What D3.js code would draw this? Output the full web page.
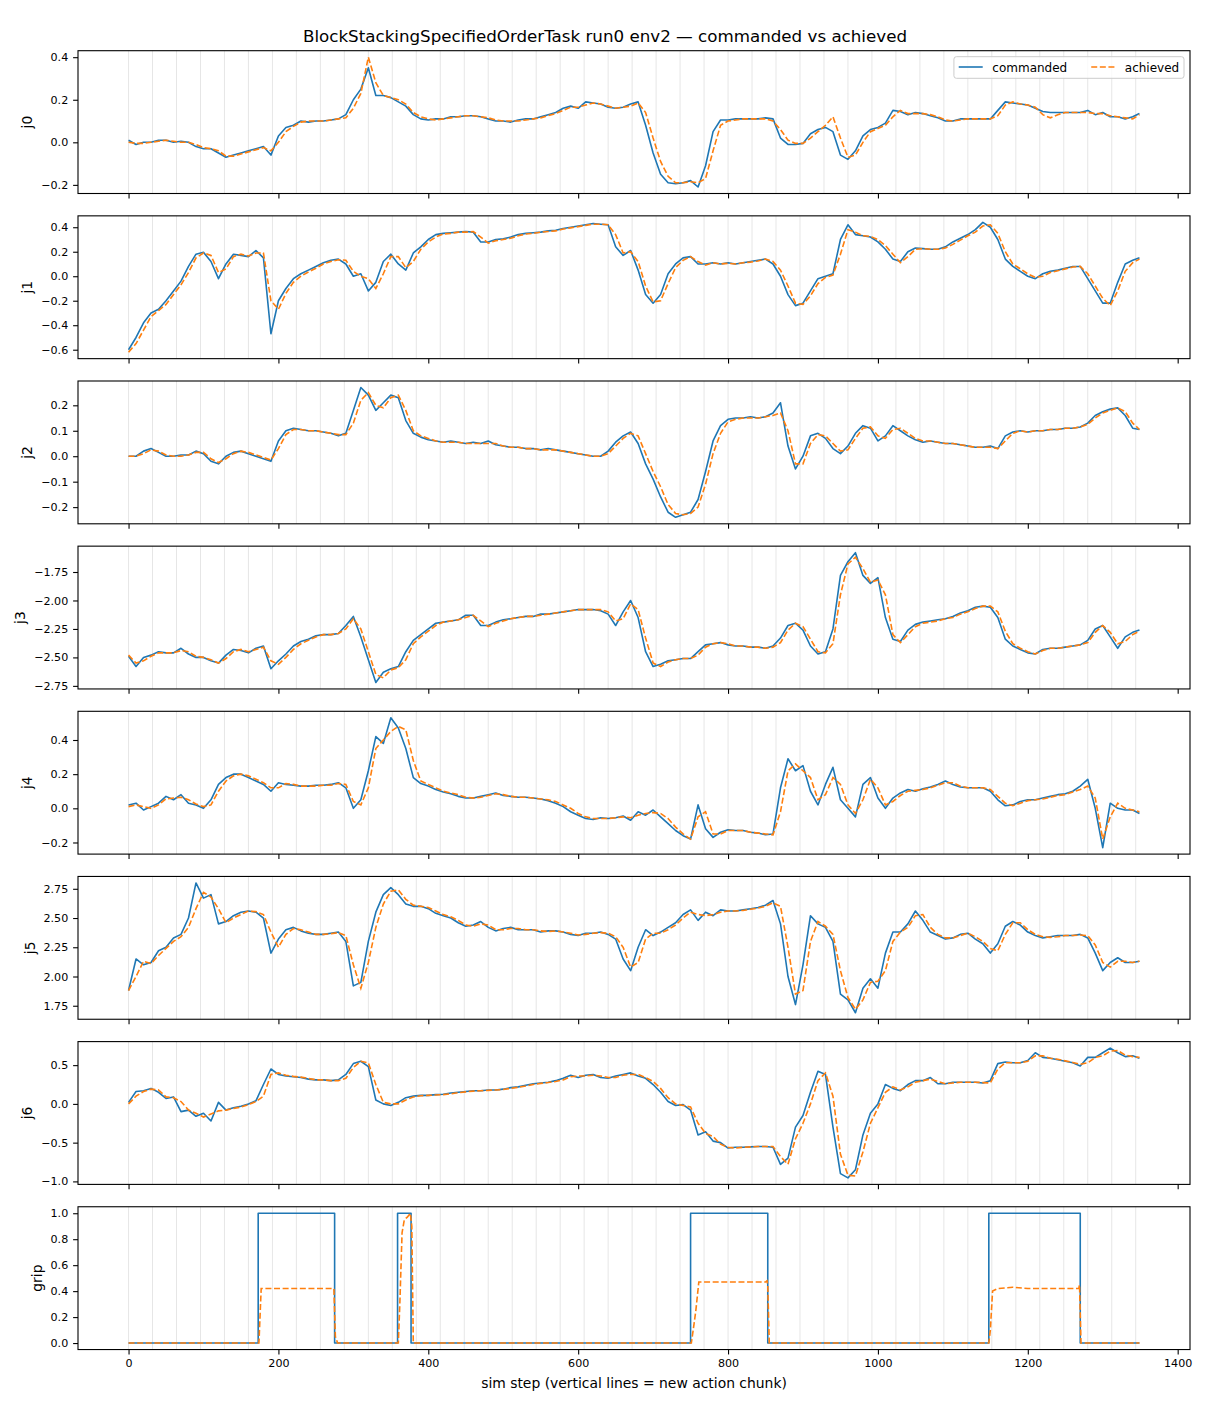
<!DOCTYPE html>
<html>
<head>
<meta charset="utf-8">
<script src="https://cdn.jsdelivr.net/npm/d3@7"></script>
<style>
	body { margin: 0; background: #fff; }
	text { font-family: "DejaVu Sans", sans-serif; fill: #000; }
</style>
</head>
<body>
<div id="chart"></div>
<script>
// joint traces are read every 10 sim steps (plus the last step 1349)
const sampleSteps = d3.range(0, 1350, 10).concat([1349]);

const j0Commanded = [
	0.01, -0.01, 0.0, 0.0, 0.01, 0.01, 0.0, 0.005, 0.0, -0.02,
	-0.03, -0.03, -0.05, -0.07, -0.06, -0.05, -0.04, -0.03, -0.02, -0.06,
	0.03, 0.07, 0.08, 0.10, 0.095, 0.10, 0.10, 0.105, 0.11, 0.13,
	0.20, 0.25, 0.35, 0.22, 0.22, 0.21, 0.19, 0.17, 0.13, 0.11,
	0.105, 0.11, 0.11, 0.12, 0.12, 0.125, 0.125, 0.12, 0.11, 0.10,
	0.10, 0.095, 0.105, 0.11, 0.11, 0.12, 0.13, 0.14, 0.16, 0.17,
	0.16, 0.19, 0.185, 0.18, 0.165, 0.16, 0.165, 0.18, 0.19, 0.08,
	-0.05, -0.15, -0.19, -0.195, -0.19, -0.18, -0.21, -0.11, 0.05, 0.105,
	0.105, 0.11, 0.11, 0.11, 0.11, 0.115, 0.11, 0.02, -0.01, -0.01,
	-0.005, 0.04, 0.06, 0.07, 0.05, -0.06, -0.08, -0.04, 0.03, 0.06,
	0.07, 0.09, 0.15, 0.145, 0.13, 0.14, 0.135, 0.125, 0.115, 0.10,
	0.10, 0.11, 0.11, 0.11, 0.11, 0.11, 0.15, 0.19, 0.185, 0.18,
	0.175, 0.16, 0.145, 0.14, 0.14, 0.14, 0.14, 0.14, 0.15, 0.13,
	0.14, 0.12, 0.12, 0.11, 0.12, 0.135
];
const j0Achieved = [
	0.0, -0.005, -0.005, 0.0, 0.005, 0.01, 0.005, 0.0, 0.0, -0.01,
	-0.025, -0.03, -0.04, -0.065, -0.065, -0.055, -0.045, -0.035, -0.025, -0.04,
	0.0, 0.05, 0.075, 0.095, 0.10, 0.10, 0.10, 0.105, 0.11, 0.115,
	0.16, 0.23, 0.40, 0.28, 0.22, 0.21, 0.20, 0.18, 0.14, 0.12,
	0.11, 0.105, 0.11, 0.115, 0.12, 0.125, 0.125, 0.12, 0.115, 0.105,
	0.10, 0.10, 0.10, 0.105, 0.11, 0.115, 0.125, 0.135, 0.15, 0.165,
	0.165, 0.175, 0.185, 0.18, 0.17, 0.16, 0.165, 0.17, 0.185, 0.14,
	0.02, -0.09, -0.16, -0.19, -0.19, -0.185, -0.19, -0.17, -0.04, 0.08,
	0.10, 0.105, 0.11, 0.11, 0.11, 0.11, 0.10, 0.06, 0.01, -0.005,
	-0.005, 0.02, 0.05, 0.08, 0.12, 0.02, -0.07, -0.06, 0.0, 0.05,
	0.065, 0.08, 0.12, 0.15, 0.135, 0.135, 0.135, 0.13, 0.12, 0.105,
	0.10, 0.105, 0.11, 0.11, 0.11, 0.11, 0.125, 0.175, 0.19, 0.18,
	0.175, 0.165, 0.13, 0.115, 0.13, 0.14, 0.14, 0.14, 0.14, 0.135,
	0.135, 0.125, 0.12, 0.115, 0.11, 0.13
];

const j1Commanded = [
	-0.60, -0.50, -0.38, -0.30, -0.27, -0.20, -0.12, -0.04, 0.08, 0.18,
	0.195, 0.12, -0.02, 0.10, 0.18, 0.17, 0.16, 0.21, 0.15, -0.47,
	-0.20, -0.10, -0.02, 0.02, 0.05, 0.08, 0.11, 0.13, 0.14, 0.10,
	0.0, 0.02, -0.12, -0.05, 0.12, 0.18, 0.10, 0.05, 0.19, 0.24,
	0.30, 0.34, 0.35, 0.355, 0.36, 0.365, 0.36, 0.28, 0.28, 0.30,
	0.305, 0.32, 0.34, 0.35, 0.355, 0.36, 0.37, 0.375, 0.39, 0.40,
	0.41, 0.42, 0.43, 0.425, 0.42, 0.24, 0.17, 0.21, 0.05, -0.15,
	-0.22, -0.15, 0.02, 0.10, 0.15, 0.16, 0.10, 0.10, 0.11, 0.10,
	0.11, 0.10, 0.11, 0.12, 0.13, 0.14, 0.10, 0.0, -0.15, -0.24,
	-0.22, -0.12, -0.02, 0.0, 0.02, 0.30, 0.42, 0.34, 0.33, 0.32,
	0.28, 0.22, 0.14, 0.12, 0.20, 0.23, 0.225, 0.22, 0.22, 0.24,
	0.28, 0.31, 0.34, 0.38, 0.44, 0.40, 0.30, 0.14, 0.08, 0.04,
	0.0, -0.02, 0.02, 0.04, 0.05, 0.065, 0.08, 0.08, -0.02, -0.12,
	-0.22, -0.22, -0.05, 0.10, 0.13, 0.15
];
const j1Achieved = [
	-0.62, -0.55, -0.44, -0.33, -0.28, -0.23, -0.15, -0.07, 0.03, 0.15,
	0.19, 0.17, 0.03, 0.06, 0.16, 0.18, 0.165, 0.19, 0.19, -0.20,
	-0.27, -0.14, -0.05, 0.0, 0.035, 0.065, 0.10, 0.12, 0.135, 0.13,
	0.04, 0.0, -0.02, -0.10, 0.02, 0.16, 0.16, 0.07, 0.12, 0.22,
	0.28, 0.32, 0.345, 0.35, 0.36, 0.36, 0.365, 0.32, 0.27, 0.29,
	0.30, 0.31, 0.33, 0.345, 0.35, 0.36, 0.365, 0.37, 0.385, 0.395,
	0.405, 0.415, 0.425, 0.425, 0.42, 0.34, 0.19, 0.20, 0.12, -0.08,
	-0.21, -0.20, -0.06, 0.07, 0.13, 0.16, 0.12, 0.09, 0.11, 0.10,
	0.105, 0.10, 0.11, 0.115, 0.125, 0.14, 0.12, 0.05, -0.08, -0.22,
	-0.23, -0.16, -0.06, -0.01, 0.01, 0.18, 0.38, 0.36, 0.33, 0.325,
	0.30, 0.25, 0.18, 0.11, 0.16, 0.22, 0.225, 0.22, 0.22, 0.23,
	0.26, 0.295, 0.33, 0.36, 0.41, 0.42, 0.35, 0.20, 0.10, 0.06,
	0.02, -0.01, 0.0, 0.03, 0.045, 0.06, 0.075, 0.08, 0.02, -0.08,
	-0.18, -0.24, -0.12, 0.04, 0.11, 0.14
];

const j2Commanded = [
	0.0, 0.0, 0.02, 0.03, 0.015, 0.0, 0.0, 0.005, 0.005, 0.02,
	0.01, -0.02, -0.03, 0.0, 0.015, 0.02, 0.01, 0.0, -0.01, -0.02,
	0.06, 0.10, 0.11, 0.105, 0.10, 0.10, 0.095, 0.09, 0.08, 0.09,
	0.18, 0.27, 0.24, 0.18, 0.21, 0.24, 0.23, 0.14, 0.09, 0.075,
	0.065, 0.06, 0.055, 0.06, 0.055, 0.05, 0.055, 0.05, 0.06, 0.045,
	0.04, 0.035, 0.035, 0.03, 0.03, 0.025, 0.03, 0.025, 0.02, 0.015,
	0.01, 0.005, 0.0, 0.0, 0.02, 0.055, 0.08, 0.095, 0.05, -0.03,
	-0.09, -0.16, -0.22, -0.24, -0.23, -0.22, -0.17, -0.06, 0.06, 0.12,
	0.145, 0.15, 0.15, 0.155, 0.15, 0.155, 0.17, 0.21, 0.04, -0.05,
	0.0, 0.08, 0.09, 0.07, 0.03, 0.01, 0.04, 0.09, 0.12, 0.11,
	0.06, 0.08, 0.12, 0.10, 0.08, 0.065, 0.055, 0.06, 0.055, 0.05,
	0.05, 0.045, 0.04, 0.035, 0.035, 0.04, 0.03, 0.08, 0.095, 0.10,
	0.095, 0.10, 0.10, 0.105, 0.105, 0.11, 0.11, 0.115, 0.13, 0.16,
	0.175, 0.185, 0.19, 0.16, 0.11, 0.105
];
const j2Achieved = [
	0.0, 0.0, 0.01, 0.025, 0.02, 0.005, 0.0, 0.0, 0.005, 0.015,
	0.015, -0.01, -0.025, -0.01, 0.01, 0.02, 0.015, 0.005, -0.005, -0.015,
	0.03, 0.085, 0.105, 0.105, 0.10, 0.10, 0.095, 0.09, 0.085, 0.085,
	0.13, 0.22, 0.25, 0.20, 0.19, 0.23, 0.24, 0.18, 0.10, 0.08,
	0.07, 0.06, 0.055, 0.055, 0.055, 0.05, 0.05, 0.05, 0.05, 0.05,
	0.04, 0.035, 0.035, 0.03, 0.03, 0.025, 0.025, 0.025, 0.02, 0.015,
	0.01, 0.005, 0.0, 0.0, 0.01, 0.04, 0.07, 0.09, 0.08, 0.01,
	-0.06, -0.12, -0.19, -0.225, -0.23, -0.225, -0.20, -0.11, 0.01, 0.09,
	0.135, 0.145, 0.15, 0.15, 0.15, 0.155, 0.16, 0.17, 0.10, -0.03,
	-0.03, 0.05, 0.085, 0.08, 0.05, 0.02, 0.025, 0.07, 0.11, 0.115,
	0.08, 0.07, 0.105, 0.11, 0.09, 0.07, 0.06, 0.06, 0.055, 0.05,
	0.05, 0.045, 0.04, 0.035, 0.035, 0.035, 0.03, 0.06, 0.09, 0.10,
	0.095, 0.10, 0.10, 0.105, 0.105, 0.11, 0.11, 0.115, 0.125, 0.15,
	0.17, 0.18, 0.19, 0.175, 0.13, 0.105
];

const j3Commanded = [
	-2.49, -2.58, -2.50, -2.48, -2.45, -2.46, -2.46, -2.42, -2.47, -2.50,
	-2.50, -2.53, -2.55, -2.48, -2.43, -2.44, -2.46, -2.42, -2.40, -2.60,
	-2.53, -2.47, -2.40, -2.36, -2.34, -2.31, -2.30, -2.30, -2.29, -2.22,
	-2.14, -2.32, -2.52, -2.72, -2.63, -2.60, -2.58, -2.45, -2.35, -2.30,
	-2.25, -2.20, -2.19, -2.18, -2.17, -2.13, -2.13, -2.22, -2.22, -2.19,
	-2.17, -2.16, -2.15, -2.14, -2.14, -2.12, -2.12, -2.11, -2.10, -2.09,
	-2.08, -2.08, -2.08, -2.09, -2.12, -2.22, -2.10, -2.00, -2.15, -2.45,
	-2.58, -2.56, -2.53, -2.52, -2.51, -2.51, -2.45, -2.39, -2.38, -2.37,
	-2.39, -2.40, -2.40, -2.41, -2.41, -2.42, -2.40, -2.33, -2.22, -2.20,
	-2.26, -2.40, -2.47, -2.45, -2.25, -1.78, -1.66, -1.58, -1.78, -1.85,
	-1.80, -2.15, -2.34, -2.36, -2.26, -2.21, -2.19, -2.18, -2.17, -2.16,
	-2.14, -2.11, -2.09, -2.06, -2.05, -2.06, -2.15, -2.34, -2.40, -2.43,
	-2.46, -2.47, -2.43, -2.42, -2.42, -2.41, -2.40, -2.39, -2.35, -2.25,
	-2.22, -2.32, -2.42, -2.32, -2.28, -2.26
];
const j3Achieved = [
	-2.48, -2.55, -2.53, -2.49, -2.46, -2.46, -2.46, -2.44, -2.45, -2.49,
	-2.50, -2.52, -2.55, -2.51, -2.45, -2.43, -2.45, -2.43, -2.41, -2.53,
	-2.56, -2.50, -2.43, -2.38, -2.35, -2.32, -2.30, -2.30, -2.29, -2.25,
	-2.16, -2.25, -2.45, -2.65, -2.68, -2.61, -2.59, -2.52, -2.38, -2.32,
	-2.27, -2.22, -2.19, -2.18, -2.17, -2.15, -2.13, -2.18, -2.23, -2.20,
	-2.18, -2.16, -2.15, -2.14, -2.14, -2.13, -2.12, -2.11, -2.10, -2.09,
	-2.08, -2.08, -2.08, -2.08, -2.10, -2.18, -2.16, -2.03, -2.08, -2.33,
	-2.55, -2.58, -2.54, -2.52, -2.51, -2.51, -2.48, -2.41, -2.38, -2.37,
	-2.38, -2.40, -2.40, -2.41, -2.41, -2.42, -2.41, -2.37, -2.26, -2.20,
	-2.23, -2.34, -2.45, -2.46, -2.38, -1.95, -1.68, -1.62, -1.72, -1.84,
	-1.82, -1.95, -2.30, -2.37, -2.30, -2.23, -2.20, -2.19, -2.18, -2.16,
	-2.15, -2.12, -2.10, -2.07, -2.05, -2.05, -2.10, -2.27, -2.38, -2.42,
	-2.45, -2.47, -2.44, -2.42, -2.42, -2.41, -2.40, -2.39, -2.37, -2.28,
	-2.22, -2.28, -2.38, -2.36, -2.30, -2.27
];

const j4Commanded = [
	0.02, 0.03, -0.01, 0.01, 0.03, 0.07, 0.05, 0.08, 0.03, 0.02,
	0.0, 0.05, 0.14, 0.18, 0.20, 0.20, 0.18, 0.16, 0.14, 0.10,
	0.15, 0.14, 0.135, 0.13, 0.13, 0.135, 0.135, 0.14, 0.15, 0.12,
	0.0, 0.05, 0.22, 0.42, 0.38, 0.53, 0.47, 0.35, 0.18, 0.145,
	0.13, 0.11, 0.095, 0.085, 0.07, 0.06, 0.06, 0.07, 0.08, 0.09,
	0.075, 0.07, 0.065, 0.065, 0.06, 0.055, 0.045, 0.03, 0.01, -0.02,
	-0.04, -0.06, -0.065, -0.055, -0.06, -0.055, -0.045, -0.07, -0.02, -0.04,
	-0.01, -0.05, -0.09, -0.13, -0.16, -0.18, 0.02, -0.12, -0.17, -0.14,
	-0.125, -0.13, -0.13, -0.14, -0.145, -0.155, -0.15, 0.12, 0.29, 0.22,
	0.25, 0.10, 0.02, 0.14, 0.24, 0.05, 0.0, -0.05, 0.14, 0.18,
	0.06, 0.0, 0.06, 0.09, 0.11, 0.10, 0.115, 0.125, 0.14, 0.16,
	0.14, 0.125, 0.12, 0.12, 0.12, 0.10, 0.05, 0.015, 0.02, 0.04,
	0.05, 0.05, 0.06, 0.07, 0.08, 0.085, 0.10, 0.13, 0.17, 0.0,
	-0.23, 0.03, 0.0, -0.01, -0.01, -0.03
];
const j4Achieved = [
	0.01, 0.02, 0.01, 0.0, 0.02, 0.055, 0.06, 0.065, 0.05, 0.025,
	0.01, 0.02, 0.10, 0.16, 0.19, 0.20, 0.19, 0.17, 0.15, 0.12,
	0.12, 0.145, 0.14, 0.13, 0.13, 0.13, 0.135, 0.135, 0.145, 0.14,
	0.04, 0.02, 0.12, 0.35, 0.40, 0.45, 0.48, 0.46, 0.28, 0.16,
	0.14, 0.12, 0.10, 0.09, 0.08, 0.065, 0.06, 0.065, 0.075, 0.085,
	0.08, 0.07, 0.065, 0.065, 0.06, 0.055, 0.05, 0.04, 0.02, 0.0,
	-0.03, -0.05, -0.06, -0.06, -0.06, -0.055, -0.05, -0.055, -0.04, -0.03,
	-0.025, -0.03, -0.06, -0.11, -0.15, -0.18, -0.05, -0.02, -0.15, -0.15,
	-0.13, -0.13, -0.13, -0.14, -0.145, -0.15, -0.155, -0.02, 0.22, 0.26,
	0.22, 0.18, 0.05, 0.08, 0.18, 0.14, 0.02, -0.03, 0.05, 0.17,
	0.12, 0.02, 0.04, 0.075, 0.10, 0.105, 0.11, 0.12, 0.135, 0.15,
	0.15, 0.13, 0.12, 0.12, 0.12, 0.11, 0.07, 0.03, 0.015, 0.03,
	0.045, 0.05, 0.055, 0.065, 0.075, 0.08, 0.095, 0.11, 0.13, 0.06,
	-0.18, -0.05, 0.03, 0.0, -0.01, -0.02
];

const j5Commanded = [
	1.88, 2.15, 2.10, 2.12, 2.22, 2.25, 2.33, 2.36, 2.50, 2.80,
	2.67, 2.70, 2.45, 2.47, 2.52, 2.55, 2.56, 2.55, 2.50, 2.20,
	2.32, 2.40, 2.42, 2.39, 2.37, 2.36, 2.36, 2.37, 2.38, 2.30,
	1.92, 1.95, 2.30, 2.55, 2.70, 2.76, 2.70, 2.62, 2.60, 2.60,
	2.58, 2.54, 2.52, 2.50, 2.46, 2.43, 2.44, 2.47, 2.42, 2.39,
	2.41, 2.42, 2.40, 2.40, 2.40, 2.38, 2.39, 2.39, 2.38, 2.36,
	2.35, 2.37, 2.37, 2.38, 2.36, 2.32, 2.15, 2.05, 2.25, 2.40,
	2.35, 2.38, 2.42, 2.46, 2.53, 2.57, 2.48, 2.55, 2.52, 2.57,
	2.56, 2.56, 2.57, 2.58, 2.59, 2.61, 2.65, 2.45, 2.00, 1.76,
	2.10, 2.52, 2.45, 2.42, 2.30, 1.85, 1.80, 1.69, 1.90, 1.98,
	1.90, 2.20, 2.38, 2.38, 2.45, 2.56, 2.48, 2.38, 2.35, 2.32,
	2.33, 2.36, 2.37, 2.32, 2.28, 2.20, 2.28, 2.43, 2.47, 2.44,
	2.38, 2.35, 2.33, 2.34, 2.35, 2.35, 2.35, 2.36, 2.33, 2.20,
	2.05, 2.12, 2.16, 2.12, 2.12, 2.13
];
const j5Achieved = [
	1.88, 2.00, 2.13, 2.11, 2.18, 2.24, 2.30, 2.34, 2.42, 2.58,
	2.72, 2.68, 2.58, 2.46, 2.50, 2.53, 2.56, 2.555, 2.53, 2.38,
	2.25, 2.36, 2.41, 2.40, 2.38, 2.36, 2.36, 2.365, 2.375, 2.35,
	2.10, 1.90, 2.12, 2.42, 2.62, 2.73, 2.74, 2.66, 2.61, 2.60,
	2.59, 2.56, 2.53, 2.51, 2.48, 2.44, 2.43, 2.45, 2.44, 2.40,
	2.40, 2.41, 2.41, 2.40, 2.40, 2.39, 2.385, 2.39, 2.38, 2.37,
	2.355, 2.36, 2.37, 2.375, 2.37, 2.34, 2.25, 2.08, 2.12, 2.32,
	2.37, 2.37, 2.40, 2.44, 2.50, 2.55, 2.53, 2.52, 2.53, 2.55,
	2.56, 2.56, 2.565, 2.575, 2.585, 2.60, 2.63, 2.60, 2.25, 1.85,
	1.88, 2.30, 2.47, 2.43, 2.36, 2.05, 1.82, 1.72, 1.80, 1.95,
	1.96, 2.05, 2.30, 2.38, 2.42, 2.52, 2.53, 2.42, 2.36, 2.33,
	2.33, 2.35, 2.37, 2.34, 2.30, 2.24, 2.22, 2.36, 2.46, 2.46,
	2.40, 2.36, 2.34, 2.335, 2.34, 2.35, 2.35, 2.355, 2.35, 2.27,
	2.12, 2.08, 2.13, 2.13, 2.12, 2.13
];

const j6Commanded = [
	0.02, 0.16, 0.17, 0.20, 0.15, 0.07, 0.09, -0.10, -0.08, -0.16,
	-0.12, -0.22, 0.02, -0.08, -0.05, -0.03, 0.0, 0.04, 0.25, 0.45,
	0.38, 0.36, 0.35, 0.34, 0.32, 0.31, 0.31, 0.30, 0.31, 0.38,
	0.52, 0.55, 0.48, 0.05, 0.0, -0.02, 0.02, 0.08, 0.10, 0.11,
	0.11, 0.12, 0.125, 0.14, 0.15, 0.16, 0.17, 0.17, 0.18, 0.18,
	0.19, 0.21, 0.22, 0.24, 0.26, 0.27, 0.28, 0.30, 0.33, 0.37,
	0.34, 0.37, 0.38, 0.34, 0.33, 0.36, 0.38, 0.40, 0.36, 0.33,
	0.25, 0.15, 0.03, -0.02, -0.01, -0.08, -0.40, -0.36, -0.48, -0.50,
	-0.57, -0.56, -0.56, -0.555, -0.55, -0.55, -0.56, -0.78, -0.70, -0.30,
	-0.15, 0.15, 0.42, 0.38, -0.30, -0.90, -0.955, -0.85, -0.40, -0.12,
	0.0, 0.25, 0.20, 0.17, 0.25, 0.30, 0.30, 0.34, 0.26, 0.26,
	0.28, 0.28, 0.28, 0.28, 0.27, 0.30, 0.52, 0.54, 0.53, 0.53,
	0.56, 0.66, 0.60, 0.59, 0.57, 0.55, 0.53, 0.49, 0.60, 0.60,
	0.66, 0.72, 0.66, 0.61, 0.62, 0.59
];
const j6Achieved = [
	0.0, 0.10, 0.16, 0.19, 0.18, 0.09, 0.08, 0.03, -0.08, -0.12,
	-0.17, -0.13, -0.09, -0.08, -0.06, -0.04, -0.01, 0.03, 0.10, 0.38,
	0.40, 0.37, 0.355, 0.345, 0.33, 0.31, 0.31, 0.30, 0.30, 0.33,
	0.47, 0.55, 0.53, 0.25, 0.02, 0.0, 0.0, 0.05, 0.09, 0.105,
	0.11, 0.115, 0.12, 0.13, 0.145, 0.155, 0.165, 0.17, 0.175, 0.18,
	0.185, 0.20, 0.215, 0.23, 0.25, 0.265, 0.275, 0.29, 0.31, 0.35,
	0.36, 0.36, 0.37, 0.36, 0.34, 0.34, 0.37, 0.38, 0.38, 0.34,
	0.29, 0.20, 0.08, 0.0, -0.02, -0.04, -0.25, -0.38, -0.42, -0.52,
	-0.56, -0.57, -0.56, -0.555, -0.55, -0.55, -0.55, -0.68, -0.78, -0.45,
	-0.25, 0.0, 0.30, 0.40, 0.10, -0.65, -0.92, -0.93, -0.62, -0.25,
	-0.05, 0.15, 0.22, 0.18, 0.22, 0.28, 0.30, 0.32, 0.29, 0.26,
	0.27, 0.28, 0.28, 0.28, 0.275, 0.27, 0.45, 0.53, 0.53, 0.53,
	0.55, 0.62, 0.62, 0.59, 0.575, 0.555, 0.535, 0.51, 0.53, 0.60,
	0.62, 0.68, 0.69, 0.63, 0.61, 0.60
];

// gripper: breakpoints of the open/close signal
const gripCommandedSteps = [0, 173, 275, 359, 377, 750, 853, 1148, 1270, 1349];
const gripCommandedValues = [0, 1, 0, 1, 0, 1, 0, 1, 0, 0];
const gripAchievedSteps = [
	0, 174, 177, 274, 276, 279,
	360, 362, 365, 368, 372, 376, 378, 380,
	751, 754, 757, 761, 850, 852, 853, 855,
	1148, 1150, 1153, 1160, 1180, 1200, 1268, 1269, 1271, 1349
];
const gripAchievedValues = [
	0, 0, 0.42, 0.42, 0.05, 0,
	0, 0.3, 0.85, 0.95, 0.97, 1.0, 0.9, 0,
	0, 0.12, 0.25, 0.47, 0.47, 0.48, 0.44, 0,
	0, 0.1, 0.40, 0.42, 0.43, 0.42, 0.42, 0.45, 0, 0
];

// a new action chunk starts every 32 sim steps
const chunkStarts = d3.range(0, 1350, 32);

const xTicks = [0, 200, 400, 600, 800, 1000, 1200, 1400];
const j0Ticks = [-0.2, 0.0, 0.2, 0.4];
const j1Ticks = [-0.6, -0.4, -0.2, 0.0, 0.2, 0.4];
const j2Ticks = [-0.2, -0.1, 0.0, 0.1, 0.2];
const j3Ticks = [-2.75, -2.50, -2.25, -2.00, -1.75];
const j4Ticks = [-0.2, 0.0, 0.2, 0.4];
const j5Ticks = [1.75, 2.00, 2.25, 2.50, 2.75];
const j6Ticks = [-1.0, -0.5, 0.0, 0.5];
const gripTicks = [0.0, 0.2, 0.4, 0.6, 0.8, 1.0];

const seriesNames = ['commanded', 'achieved'];
const titleText = 'BlockStackingSpecifiedOrderTask run0 env2 \u2014 commanded vs achieved';
const xLabelText = 'sim step (vertical lines = new action chunk)';

// ---------------------------------------------------------------

const width = 1210;
const height = 1408;
const left = 78;
const right = 1190;
const top0 = 50.7;
const panelH = 142.8;
const pitch = 165.15;
const tickLen = 4.9;
const tickPad = 4.9;
const blue = '#1f77b4';
const orange = '#ff7f0e';

const zipSeries = (steps, values) => steps.map((s, i) => ({ step: s, value: values[i] }));

const panels = [
	{ label: 'j0', ticks: j0Ticks, fmt: '.1f', cmd: zipSeries(sampleSteps, j0Commanded), ach: zipSeries(sampleSteps, j0Achieved) },
	{ label: 'j1', ticks: j1Ticks, fmt: '.1f', cmd: zipSeries(sampleSteps, j1Commanded), ach: zipSeries(sampleSteps, j1Achieved) },
	{ label: 'j2', ticks: j2Ticks, fmt: '.1f', cmd: zipSeries(sampleSteps, j2Commanded), ach: zipSeries(sampleSteps, j2Achieved) },
	{ label: 'j3', ticks: j3Ticks, fmt: '.2f', cmd: zipSeries(sampleSteps, j3Commanded), ach: zipSeries(sampleSteps, j3Achieved) },
	{ label: 'j4', ticks: j4Ticks, fmt: '.1f', cmd: zipSeries(sampleSteps, j4Commanded), ach: zipSeries(sampleSteps, j4Achieved) },
	{ label: 'j5', ticks: j5Ticks, fmt: '.2f', cmd: zipSeries(sampleSteps, j5Commanded), ach: zipSeries(sampleSteps, j5Achieved) },
	{ label: 'j6', ticks: j6Ticks, fmt: '.1f', cmd: zipSeries(sampleSteps, j6Commanded), ach: zipSeries(sampleSteps, j6Achieved) },
	{ label: 'grip', ticks: gripTicks, fmt: '.1f', step: true,
		cmd: zipSeries(gripCommandedSteps, gripCommandedValues),
		ach: zipSeries(gripAchievedSteps, gripAchievedValues) }
];

const svg = d3.select('#chart')
	.append('svg')
	.attr('width', width)
	.attr('height', height)
	.attr('viewBox', `0 0 ${width} ${height}`);

svg.append('rect').attr('width', width).attr('height', height).attr('fill', '#fff');

// x range 0..1349 with matplotlib's 5% margins
const xMax = 1349;
const x = d3.scaleLinear()
	.domain([-0.05 * xMax, xMax * 1.05])
	.range([left, right]);

svg.append('text')
	.attr('x', width / 2)
	.attr('y', 42)
	.attr('text-anchor', 'middle')
	.style('font-size', '16.7px')
	.text(titleText);

const defs = svg.append('defs');

panels.forEach((p, i) => {
	let top = top0 + i * pitch;
	let g = svg.append('g').attr('transform', `translate(0, ${top})`);

	let all = p.cmd.concat(p.ach).map((d) => d.value);
	let [lo, hi] = d3.extent(all);
	let pad = (hi - lo) * 0.05;
	let y = d3.scaleLinear().domain([lo - pad, hi + pad]).range([panelH, 0]);

	defs.append('clipPath')
		.attr('id', `clip${i}`)
		.append('rect')
		.attr('x', left)
		.attr('y', 0)
		.attr('width', right - left)
		.attr('height', panelH);

	// action chunk boundaries
	g.append('g')
		.selectAll('line')
		.data(chunkStarts)
		.enter()
		.append('line')
		.attr('x1', (d) => x(d))
		.attr('x2', (d) => x(d))
		.attr('y1', 0)
		.attr('y2', panelH)
		.attr('stroke', '#808080')
		.attr('stroke-opacity', 0.25)
		.attr('stroke-width', 0.8);

	let line = d3.line()
		.x((d) => x(d.step))
		.y((d) => y(d.value))
		.curve(p.step ? d3.curveStepAfter : d3.curveLinear);

	let achLine = d3.line()
		.x((d) => x(d.step))
		.y((d) => y(d.value));

	let plot = g.append('g').attr('clip-path', `url(#clip${i})`);

	plot.append('path')
		.datum(p.cmd)
		.attr('fill', 'none')
		.attr('stroke', blue)
		.attr('stroke-width', 1.6)
		.attr('stroke-linejoin', 'round')
		.attr('d', line);

	plot.append('path')
		.datum(p.ach)
		.attr('fill', 'none')
		.attr('stroke', orange)
		.attr('stroke-width', 1.6)
		.attr('stroke-dasharray', '6,2.6')
		.attr('d', achLine);

	// frame
	g.append('rect')
		.attr('x', left)
		.attr('y', 0)
		.attr('width', right - left)
		.attr('height', panelH)
		.attr('fill', 'none')
		.attr('stroke', '#000')
		.attr('stroke-width', 1.1);

	let yAxis = g.append('g')
		.attr('transform', `translate(${left}, 0)`)
		.call(d3.axisLeft(y)
			.tickValues(p.ticks)
			.tickFormat(d3.format(p.fmt))
			.tickSize(tickLen)
			.tickPadding(tickPad));

	let isLast = i === panels.length - 1;
	let xAxis = g.append('g')
		.attr('transform', `translate(0, ${panelH})`)
		.call(d3.axisBottom(x)
			.tickValues(xTicks)
			.tickFormat(isLast ? d3.format('d') : () => '')
			.tickSize(tickLen)
			.tickPadding(tickPad));

	[yAxis, xAxis].forEach((ax) => {
		ax.select('.domain').remove();
		ax.selectAll('.tick line').attr('stroke', '#000').attr('stroke-width', 1.1);
		ax.selectAll('.tick text')
			.attr('fill', '#000')
			.style('font-family', '"DejaVu Sans", sans-serif')
			.style('font-size', '11.1px');
	});

	// y label sits left of the widest tick label
	let maxW = d3.max(yAxis.selectAll('.tick text').nodes(), (n) => n.getComputedTextLength());
	let labelX = left - tickLen - tickPad - maxW - 5.6 - 3.2;
	g.append('text')
		.attr('transform', `translate(${labelX}, ${panelH / 2}) rotate(-90)`)
		.attr('text-anchor', 'middle')
		.style('font-size', '13.9px')
		.text(p.label);

	if (isLast) {
		g.append('text')
			.attr('x', (left + right) / 2)
			.attr('y', panelH + 38.5)
			.attr('text-anchor', 'middle')
			.style('font-size', '13.9px')
			.text(xLabelText);
	}

	if (i === 0) {
		drawLegend(g);
	}
});

function drawLegend(g) {
	let fs = 12;
	let pad = 0.4 * fs;
	let handle = 2.0 * fs;
	let textPad = 0.8 * fs;
	let colSpace = 2.0 * fs;
	let boxRight = right - 0.5 * fs;
	let boxTop = 0.5 * fs;
	let boxH = 21.6;
	let legend = g.append('g');

	let box = legend.append('rect')
		.attr('y', boxTop)
		.attr('height', boxH)
		.attr('rx', 2.5)
		.attr('fill', '#fff')
		.attr('fill-opacity', 0.8)
		.attr('stroke', '#cccccc')
		.attr('stroke-width', 1);

	let items = legend.selectAll('g.item')
		.data(seriesNames)
		.enter()
		.append('g')
		.attr('class', 'item');

	let labels = items.append('text')
		.style('font-size', `${fs}px`)
		.attr('y', boxTop + boxH / 2)
		.attr('dy', '0.36em')
		.text((d) => d);

	let widths = labels.nodes().map((n) => n.getComputedTextLength());
	let total = pad * 2 + d3.sum(widths) + seriesNames.length * (handle + textPad) + colSpace * (seriesNames.length - 1);
	let boxLeft = boxRight - total;
	box.attr('x', boxLeft).attr('width', total);

	let cursor = boxLeft + pad;
	seriesNames.forEach((name, k) => {
		let item = d3.select(items.nodes()[k]);
		item.insert('line', 'text')
			.attr('x1', cursor)
			.attr('x2', cursor + handle)
			.attr('y1', boxTop + boxH / 2 - 0.5)
			.attr('y2', boxTop + boxH / 2 - 0.5)
			.attr('stroke', k === 0 ? blue : orange)
			.attr('stroke-width', 1.6)
			.attr('stroke-dasharray', k === 0 ? null : '6,2.6');
		item.select('text').attr('x', cursor + handle + textPad);
		cursor += handle + textPad + widths[k] + colSpace;
	});
}
</script>
</body>
</html>
